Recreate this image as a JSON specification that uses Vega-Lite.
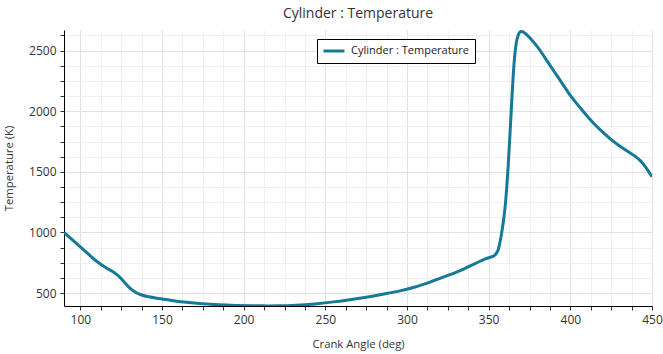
{
  "$schema": "https://vega.github.io/schema/vega-lite/v6.json",
  "width": 588,
  "height": 276,
  "autosize": "none",
  "padding": {"left": 64, "top": 30, "right": 11, "bottom": 48},
  "background": "white",
  "config": {
    "font": "Open Sans",
    "view": {"stroke": null}
  },
  "title": {
    "text": "Cylinder : Temperature",
    "fontSize": 14,
    "fontWeight": "normal",
    "color": "#333333",
    "anchor": "middle",
    "offset": 9
  },
  "data": {
    "values": [
      {"angle": 90, "temp": 1000, "series": "Cylinder : Temperature"},
      {"angle": 95, "temp": 940, "series": "Cylinder : Temperature"},
      {"angle": 100, "temp": 880, "series": "Cylinder : Temperature"},
      {"angle": 105, "temp": 820, "series": "Cylinder : Temperature"},
      {"angle": 110, "temp": 762, "series": "Cylinder : Temperature"},
      {"angle": 115, "temp": 714, "series": "Cylinder : Temperature"},
      {"angle": 120, "temp": 675, "series": "Cylinder : Temperature"},
      {"angle": 123, "temp": 646, "series": "Cylinder : Temperature"},
      {"angle": 126, "temp": 603, "series": "Cylinder : Temperature"},
      {"angle": 130, "temp": 545, "series": "Cylinder : Temperature"},
      {"angle": 134, "temp": 505, "series": "Cylinder : Temperature"},
      {"angle": 138, "temp": 482, "series": "Cylinder : Temperature"},
      {"angle": 142, "temp": 469, "series": "Cylinder : Temperature"},
      {"angle": 148, "temp": 455, "series": "Cylinder : Temperature"},
      {"angle": 155, "temp": 441, "series": "Cylinder : Temperature"},
      {"angle": 165, "temp": 423, "series": "Cylinder : Temperature"},
      {"angle": 175, "temp": 411, "series": "Cylinder : Temperature"},
      {"angle": 185, "temp": 403, "series": "Cylinder : Temperature"},
      {"angle": 195, "temp": 398, "series": "Cylinder : Temperature"},
      {"angle": 205, "temp": 395, "series": "Cylinder : Temperature"},
      {"angle": 215, "temp": 394, "series": "Cylinder : Temperature"},
      {"angle": 225, "temp": 395, "series": "Cylinder : Temperature"},
      {"angle": 235, "temp": 401, "series": "Cylinder : Temperature"},
      {"angle": 245, "temp": 412, "series": "Cylinder : Temperature"},
      {"angle": 255, "temp": 427, "series": "Cylinder : Temperature"},
      {"angle": 265, "temp": 445, "series": "Cylinder : Temperature"},
      {"angle": 275, "temp": 466, "series": "Cylinder : Temperature"},
      {"angle": 285, "temp": 490, "series": "Cylinder : Temperature"},
      {"angle": 295, "temp": 516, "series": "Cylinder : Temperature"},
      {"angle": 305, "temp": 550, "series": "Cylinder : Temperature"},
      {"angle": 315, "temp": 595, "series": "Cylinder : Temperature"},
      {"angle": 325, "temp": 645, "series": "Cylinder : Temperature"},
      {"angle": 335, "temp": 700, "series": "Cylinder : Temperature"},
      {"angle": 342, "temp": 745, "series": "Cylinder : Temperature"},
      {"angle": 348, "temp": 782, "series": "Cylinder : Temperature"},
      {"angle": 352, "temp": 800, "series": "Cylinder : Temperature"},
      {"angle": 354, "temp": 815, "series": "Cylinder : Temperature"},
      {"angle": 356, "temp": 865, "series": "Cylinder : Temperature"},
      {"angle": 357, "temp": 925, "series": "Cylinder : Temperature"},
      {"angle": 358, "temp": 1000, "series": "Cylinder : Temperature"},
      {"angle": 359, "temp": 1090, "series": "Cylinder : Temperature"},
      {"angle": 360, "temp": 1200, "series": "Cylinder : Temperature"},
      {"angle": 361, "temp": 1360, "series": "Cylinder : Temperature"},
      {"angle": 362, "temp": 1560, "series": "Cylinder : Temperature"},
      {"angle": 363, "temp": 1800, "series": "Cylinder : Temperature"},
      {"angle": 364, "temp": 2050, "series": "Cylinder : Temperature"},
      {"angle": 365, "temp": 2290, "series": "Cylinder : Temperature"},
      {"angle": 366, "temp": 2465, "series": "Cylinder : Temperature"},
      {"angle": 367, "temp": 2570, "series": "Cylinder : Temperature"},
      {"angle": 368, "temp": 2625, "series": "Cylinder : Temperature"},
      {"angle": 369, "temp": 2651, "series": "Cylinder : Temperature"},
      {"angle": 370, "temp": 2658, "series": "Cylinder : Temperature"},
      {"angle": 371, "temp": 2654, "series": "Cylinder : Temperature"},
      {"angle": 373, "temp": 2635, "series": "Cylinder : Temperature"},
      {"angle": 375, "temp": 2608, "series": "Cylinder : Temperature"},
      {"angle": 380, "temp": 2528, "series": "Cylinder : Temperature"},
      {"angle": 385, "temp": 2430, "series": "Cylinder : Temperature"},
      {"angle": 390, "temp": 2330, "series": "Cylinder : Temperature"},
      {"angle": 395, "temp": 2230, "series": "Cylinder : Temperature"},
      {"angle": 400, "temp": 2130, "series": "Cylinder : Temperature"},
      {"angle": 405, "temp": 2045, "series": "Cylinder : Temperature"},
      {"angle": 410, "temp": 1965, "series": "Cylinder : Temperature"},
      {"angle": 415, "temp": 1890, "series": "Cylinder : Temperature"},
      {"angle": 420, "temp": 1825, "series": "Cylinder : Temperature"},
      {"angle": 425, "temp": 1765, "series": "Cylinder : Temperature"},
      {"angle": 430, "temp": 1715, "series": "Cylinder : Temperature"},
      {"angle": 435, "temp": 1670, "series": "Cylinder : Temperature"},
      {"angle": 440, "temp": 1625, "series": "Cylinder : Temperature"},
      {"angle": 443, "temp": 1590, "series": "Cylinder : Temperature"},
      {"angle": 446, "temp": 1540, "series": "Cylinder : Temperature"},
      {"angle": 448, "temp": 1500, "series": "Cylinder : Temperature"},
      {"angle": 450, "temp": 1460, "series": "Cylinder : Temperature"}
    ]
  },
  "mark": {"type": "line", "interpolate": "monotone", "strokeWidth": 3, "clip": true},
  "encoding": {
    "x": {
      "field": "angle",
      "type": "quantitative",
      "scale": {"domain": [90, 450], "nice": false, "zero": false},
      "axis": {
        "title": "Crank Angle (deg)",
        "values": [100, 112.5, 125, 137.5, 150, 162.5, 175, 187.5, 200, 212.5, 225, 237.5, 250, 262.5, 275, 287.5, 300, 312.5, 325, 337.5, 350, 362.5, 375, 387.5, 400, 412.5, 425, 437.5, 450],
        "labelExpr": "datum.value % 50 === 0 ? datum.label : ''",
        "labelFontSize": 12,
        "labelColor": "#333333",
        "labelPadding": 4,
        "labelFlush": false,
        "titleFontSize": 11.3,
        "titleFontWeight": "normal",
        "titleColor": "#333333",
        "titlePadding": 13,
        "domainColor": "#000000",
        "domainWidth": 1,
        "tickColor": "#333333",
        "tickSize": 4,
        "grid": true,
        "gridColor": {"condition": {"test": "datum.value % 50 === 0", "value": "#e2e2e2"}, "value": "#f0f0f0"},
        "gridWidth": 1
      }
    },
    "y": {
      "field": "temp",
      "type": "quantitative",
      "scale": {"domain": [393, 2670], "nice": false, "zero": false},
      "axis": {
        "title": "Temperature (K)",
        "values": [500, 625, 750, 875, 1000, 1125, 1250, 1375, 1500, 1625, 1750, 1875, 2000, 2125, 2250, 2375, 2500, 2625],
        "labelExpr": "datum.value % 500 === 0 ? datum.label : ''",
        "format": "d",
        "labelFontSize": 12,
        "labelColor": "#333333",
        "labelPadding": 4,
        "titleFontSize": 11.3,
        "titleFontWeight": "normal",
        "titleColor": "#333333",
        "titlePadding": 14,
        "domainColor": "#000000",
        "domainWidth": 1,
        "tickColor": "#333333",
        "tickSize": 4,
        "grid": true,
        "gridColor": {"condition": {"test": "datum.value % 500 === 0", "value": "#e2e2e2"}, "value": "#f0f0f0"},
        "gridWidth": 1
      }
    },
    "color": {
      "field": "series",
      "type": "nominal",
      "scale": {"range": ["#157a98"]},
      "legend": {
        "title": null,
        "orient": "none",
        "legendX": 253,
        "legendY": 9,
        "direction": "vertical",
        "symbolType": "stroke",
        "symbolSize": 441,
        "symbolStrokeWidth": 3,
        "clipHeight": 14,
        "labelFontSize": 11,
        "labelColor": "#222222",
        "labelOffset": 5,
        "strokeColor": "#000000",
        "fillColor": "#ffffff",
        "padding": 5
      }
    }
  }
}
